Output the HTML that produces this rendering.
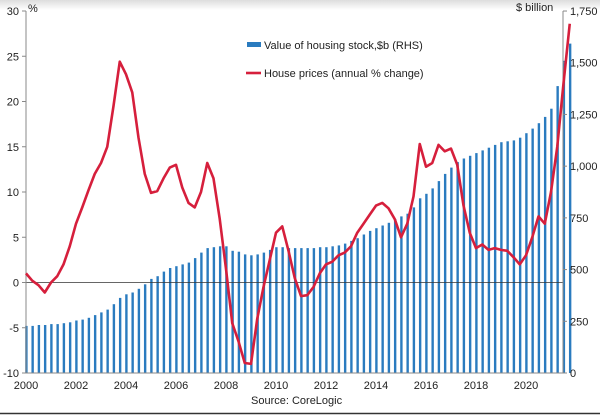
<!DOCTYPE html>
<html><head><meta charset="utf-8"><style>
body{margin:0;background:#fff;width:600px;height:416px;overflow:hidden}
svg{display:block;font-family:"Liberation Sans",sans-serif}
</style></head><body>
<svg id="s" width="600" height="416" xmlns="http://www.w3.org/2000/svg">
<defs><linearGradient id="g" x1="0" y1="0" x2="0" y2="1"><stop offset="0" stop-color="#ddd"/><stop offset="1" stop-color="#fff"/></linearGradient></defs>
<rect x="0" y="0" width="600" height="10" fill="url(#g)"/>
<g id="bars" fill="#2a7bbf"></g>
<line x1="26" y1="282.5" x2="563" y2="282.5" stroke="#333" stroke-width="0.8"/>
<line x1="26" y1="11" x2="26" y2="373" stroke="#888" stroke-width="1"/>
<line x1="563" y1="11" x2="563" y2="373" stroke="#888" stroke-width="1"/>
<line x1="26" y1="373" x2="563" y2="373" stroke="#888" stroke-width="1"/>
<g id="ax" fill="#222" font-size="11"></g>
<polyline id="ln" fill="none" stroke="#d61f3c" stroke-width="2.6" stroke-linejoin="round"/>
<rect x="247" y="42" width="14" height="5" fill="#2a7bbf"/>
<text x="264" y="49" font-size="11" fill="#222">Value of housing stock,$b (RHS)</text>
<line x1="246" y1="73" x2="261" y2="73" stroke="#d61f3c" stroke-width="2.6"/>
<text x="264" y="77" font-size="11" fill="#222">House prices (annual % change)</text>
<text x="28" y="12" font-size="11" fill="#222">%</text>
<text x="516" y="11" font-size="11" fill="#222">$ billion</text>
<text x="251" y="404" font-size="11" fill="#222">Source: CoreLogic</text>
<line x1="0" y1="413.5" x2="600" y2="413.5" stroke="#333" stroke-width="1.5"/>
</svg>
<script>
var Y=function(v){return 282.5-v*9.05};
var b=[-4.8,-4.8,-4.7,-4.7,-4.6,-4.6,-4.5,-4.4,-4.2,-4.1,-3.9,-3.6,-3.3,-3.0,-2.4,-1.7,-1.3,-1.1,-0.7,-0.2,0.4,0.7,1.2,1.6,1.8,2.0,2.2,2.7,3.3,3.8,3.9,4.0,4.0,3.5,3.4,3.1,3.0,3.1,3.3,3.6,3.9,3.9,3.8,3.8,3.8,3.8,3.8,3.9,3.9,4.0,4.1,4.3,4.6,4.9,5.3,5.7,6.0,6.3,6.6,7.0,7.3,7.6,8.3,9.3,9.8,10.4,11.2,12.0,12.7,13.3,13.7,14.0,14.3,14.6,14.9,15.2,15.5,15.6,15.7,16.0,16.5,17.0,17.6,18.3,19.2,21.7,24.5,26.4];
var h='';b.forEach(function(v,i){var x=26+i*6.25;var y=Y(v);h+='<rect x="'+(x-0.8).toFixed(2)+'" y="'+y.toFixed(1)+'" width="2.4" height="'+(373-y).toFixed(1)+'"/>';});
document.getElementById('bars').innerHTML=h;
var l=[1.0,0.2,-0.3,-1.1,0.0,0.7,2.0,4.0,6.5,8.3,10.2,12.0,13.2,15.0,19.5,24.4,23.0,21.0,16.0,12.0,9.9,10.1,11.5,12.7,13.0,10.5,8.8,8.3,10.0,13.2,11.5,7.0,1.5,-4.5,-6.5,-8.9,-9.0,-4.0,-0.5,2.5,5.5,6.2,3.5,0.5,-1.5,-1.4,-0.5,1.0,2.0,2.3,3.0,3.3,4.0,5.5,6.5,7.5,8.5,8.8,8.2,7.0,5.0,6.5,9.5,15.3,12.8,13.2,15.2,14.5,14.8,13.0,8.5,5.5,3.8,4.2,3.6,3.8,3.6,3.5,2.8,2.0,3.0,5.0,7.3,6.5,10.0,15.0,22.0,28.6];
document.getElementById('ln').setAttribute('points',l.map(function(v,i){return (26+i*6.25).toFixed(2)+','+Y(v).toFixed(1)}).join(' '));
var a='';
for(var v=-10;v<=30;v+=5){var y=Y(v);a+='<text x="19" y="'+(y+4)+'" text-anchor="end">'+v+'</text><line x1="22" x2="26" y1="'+y+'" y2="'+y+'" stroke="#888"/>';}
var r=['0','250','500','750','1,000','1,250','1,500','1,750'];
r.forEach(function(t,i){var y=373-i*51.71;a+='<text x="570" y="'+(y+4)+'">'+t+'</text><line x1="563" x2="567" y1="'+y+'" y2="'+y+'" stroke="#888"/>';});
for(var yr=2000;yr<=2020;yr+=2){var x=26+(yr-2000)*25;a+='<text x="'+x+'" y="389" text-anchor="middle">'+yr+'</text>';}
document.getElementById('ax').innerHTML=a;
</script>
</body></html>
